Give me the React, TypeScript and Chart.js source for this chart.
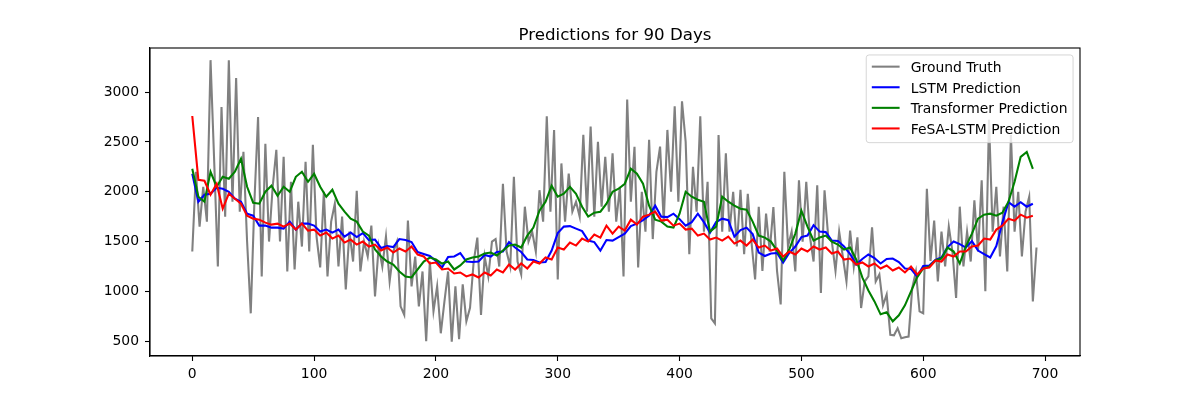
import React, { useEffect, useRef } from 'react';
import { Chart, registerables } from 'chart.js';

Chart.register(...registerables);

// sampling steps (days) for the series below
const truthStep = 3;
const predStep = 5;

const groundTruth = [
  1400, 2200, 1650, 2050, 1700, 3320, 2300, 1250, 2850, 1750,
  3320, 1900, 3140, 1800, 2400, 1500, 780, 1900, 2750, 1150,
  2480, 1500, 2050, 2420, 1500, 2350, 1200, 2100, 1220, 1900,
  1450, 2300, 1400, 2470, 1550, 1240, 2000, 1150, 1700, 1880,
  1250, 1750, 1020, 1600, 1300, 2010, 1200, 1500, 1350, 1660,
  950, 1450, 1250, 1550, 1100, 1400, 1500, 850, 765, 1710,
  1050, 1350, 850, 1200, 500, 1300, 800, 1050, 580, 900,
  1200, 495, 1050, 520, 1070, 700, 835, 1300, 1540, 765,
  1350, 1150, 1500, 1525, 1250, 2080, 1400, 1250, 2150, 1300,
  1170, 1850, 1500, 1600, 1400, 2015, 1700, 2757, 1800, 2620,
  1120, 2284, 1700, 2183, 1800, 1900, 1750, 2570, 1800, 2655,
  1750, 2500, 1850, 2350, 1800, 2385, 1700, 2050, 1150, 2925,
  1900, 2450, 1240, 2000, 1600, 2520, 1525, 2200, 2453, 1700,
  2620, 2000, 2858, 1900, 2908, 2500, 1374, 2250, 1800, 2757,
  1600, 2100, 730, 680, 2570, 1600, 2385, 1600, 2000, 1450,
  2020, 1374, 1980, 1500, 1120, 1850, 1205, 1780, 1400, 1845,
  1205, 870, 2200, 1450, 1600, 1200, 2115, 1500, 2100, 1550,
  1300, 2065, 985, 2015, 1550, 1500, 1205, 1600, 1350, 1100,
  1610, 1250, 1543, 833, 1100, 1150, 1643, 1100, 1170, 860,
  968, 564, 560, 630, 530, 540, 547, 1036, 1200, 800,
  780, 2030, 1305, 1710, 1100, 1600, 1250, 1650, 1400, 935,
  1850, 1250, 1600, 1300, 1913, 1400, 2115, 1003, 2723, 1600,
  2050, 1350, 1850, 1200, 2570, 1600, 2000, 1350, 1800, 1950,
  900, 1440,
];

const lstmPred = [
  2180, 1900, 1970, 1980, 2040, 2030, 2000, 1930, 1900, 1780,
  1760, 1660, 1660, 1640, 1640, 1630, 1700, 1620, 1680, 1680,
  1660, 1600, 1620, 1590, 1620, 1550, 1590, 1545, 1585, 1515,
  1520, 1435, 1455, 1445, 1525, 1515, 1495, 1395, 1375, 1355,
  1305, 1240, 1345, 1350, 1385, 1300, 1295, 1300, 1365, 1350,
  1395, 1400, 1495, 1440, 1395, 1320, 1315, 1290, 1295, 1410,
  1585, 1650, 1655, 1630, 1605, 1510, 1495, 1410, 1515, 1510,
  1545, 1580, 1655, 1680, 1715, 1760, 1860, 1750, 1745, 1780,
  1725, 1660, 1695, 1780, 1695, 1590, 1695, 1730, 1715, 1550,
  1615, 1640, 1575, 1390, 1355, 1380, 1385, 1290, 1385, 1450,
  1545, 1560, 1665, 1600, 1595, 1510, 1505, 1450, 1375, 1270,
  1325, 1370, 1335, 1280, 1325, 1330, 1295, 1230, 1225, 1150,
  1255, 1260, 1315, 1340, 1445, 1500, 1475, 1440, 1505, 1410,
  1375, 1340, 1455, 1690, 1895, 1850, 1895, 1850, 1880,
];

const transformerPred = [
  2230, 1950, 1900, 2200, 2050, 2150, 2130, 2200, 2330, 2050,
  1890, 1880, 2000, 2060, 1960, 2050, 2000, 2150, 2200, 2100,
  2180, 2050, 1950, 2020, 1880, 1800, 1730, 1700, 1600, 1560,
  1420, 1350, 1300, 1270, 1200, 1150, 1140, 1220, 1300, 1340,
  1320, 1280, 1300, 1220, 1260, 1320, 1340, 1350, 1380, 1390,
  1360, 1410, 1460, 1470, 1440, 1560, 1640, 1810, 1900, 2060,
  1950, 1980, 2050, 1980, 1850, 1750, 1790, 1800, 1880, 2000,
  2030, 2080, 2230, 2180, 2080, 1860, 1720, 1700, 1650, 1640,
  1780, 2000, 1950, 1920, 1900, 1600, 1650, 1950, 1900, 1860,
  1830, 1820, 1700, 1560, 1540, 1500, 1410, 1310, 1420, 1580,
  1810, 1650, 1510, 1540, 1560, 1500, 1470, 1420, 1440, 1320,
  1140, 1010, 900, 770, 790, 700, 760, 860, 1000, 1140,
  1230, 1250, 1310, 1330, 1440, 1400, 1280, 1450, 1580, 1730,
  1770, 1780, 1760, 1790, 1900, 2100, 2350, 2400, 2230,
];

const fesaPred = [
  2760, 2120, 2110, 1970, 2080, 1830, 1980, 1930, 1880, 1760,
  1730, 1720, 1690, 1670, 1680, 1650, 1680, 1620, 1680, 1610,
  1620, 1560, 1590, 1530, 1560, 1490, 1520, 1470, 1500, 1450,
  1470, 1410, 1440, 1390, 1430, 1400, 1450, 1370, 1350, 1280,
  1290, 1220, 1230, 1180, 1190, 1150, 1170, 1140, 1190, 1160,
  1220, 1190, 1270, 1220, 1280, 1230, 1300, 1280, 1340, 1320,
  1440, 1420, 1490, 1460, 1530, 1500, 1570, 1540, 1660, 1580,
  1650, 1610, 1720, 1670, 1750, 1770, 1800, 1710, 1720, 1660,
  1680, 1620, 1630, 1560, 1580, 1520, 1540, 1510, 1550, 1480,
  1510, 1460, 1520, 1440, 1460, 1410, 1430, 1350, 1400, 1370,
  1430, 1400, 1450, 1420, 1440, 1380, 1400, 1320, 1330, 1270,
  1290, 1250, 1280, 1230, 1260, 1210, 1240, 1190, 1250, 1170,
  1230, 1240, 1310, 1300, 1370, 1350, 1400, 1400, 1450, 1460,
  1530, 1520, 1620, 1660, 1730, 1710, 1770, 1740, 1760,
];

const xTickValues = [0, 100, 200, 300, 400, 500, 600, 700];
const yTickValues = [500, 1000, 1500, 2000, 2500, 3000];

const FONT = '"DejaVu Sans", sans-serif';

const toPoints = (values: number[], step: number) =>
  values.map((y, i) => ({ x: i * step, y }));

const framePlugin = {
  id: 'frame',
  afterDatasetsDraw(chart: any) {
    const { ctx, chartArea: a } = chart;
    ctx.save();
    ctx.strokeStyle = '#000';
    ctx.lineWidth = 1.1;
    ctx.strokeRect(a.left, a.top, a.right - a.left, a.bottom - a.top);
    ctx.restore();
  },
};

const titlePlugin = {
  id: 'mplTitle',
  afterDraw(chart: any) {
    const { ctx, chartArea: a } = chart;
    ctx.save();
    ctx.font = `16.67px ${FONT}`;
    ctx.fillStyle = '#000';
    ctx.textAlign = 'center';
    ctx.textBaseline = 'alphabetic';
    ctx.fillText('Predictions for 90 Days', (a.left + a.right) / 2, a.top - 8.3);
    ctx.restore();
  },
};

const legendPlugin = {
  id: 'mplLegend',
  afterDraw(chart: any) {
    const { ctx, chartArea: a } = chart;
    const fs = 13.9;
    const sets = chart.data.datasets;
    ctx.save();
    ctx.font = `${fs}px ${FONT}`;
    const textW = Math.max(...sets.map((d: any) => ctx.measureText(d.label).width));
    const pad = 0.4 * fs;
    const handle = 2 * fs;
    const gap = 0.8 * fs;
    const w = pad + handle + gap + textW + pad;
    const h = 87.7;
    const right = a.right - 0.5 * fs;
    const top = a.top + 0.5 * fs;
    const left = right - w;
    ctx.beginPath();
    ctx.roundRect(left, top, w, h, 2.8);
    ctx.fillStyle = 'rgba(255,255,255,0.8)';
    ctx.fill();
    ctx.strokeStyle = 'rgba(204,204,204,0.8)';
    ctx.lineWidth = 1;
    ctx.stroke();
    sets.forEach((d: any, i: number) => {
      const cy = top + 11.7 + i * 20.6;
      ctx.beginPath();
      ctx.moveTo(left + pad, cy);
      ctx.lineTo(left + pad + handle, cy);
      ctx.strokeStyle = d.borderColor;
      ctx.lineWidth = 2.08;
      ctx.stroke();
      ctx.fillStyle = '#000';
      ctx.textAlign = 'left';
      ctx.textBaseline = 'alphabetic';
      ctx.fillText(d.label, left + pad + handle + gap, cy + 5.3);
    });
    ctx.restore();
  },
};

const App: React.FC = () => {
  const canvasRef = useRef<HTMLCanvasElement | null>(null);
  const chartRef = useRef<Chart | null>(null);

  useEffect(() => {
    if (!canvasRef.current) return;
    if (chartRef.current) chartRef.current.destroy();

    const line = (label: string, data: { x: number; y: number }[], color: string, order: number) => ({
      label,
      data,
      borderColor: color,
      backgroundColor: color,
      borderWidth: 2.08,
      pointRadius: 0,
      tension: 0,
      fill: false,
      order,
    });

    const tickCfg = {
      color: '#000',
      font: { family: FONT, size: 13.9 },
      callback: (v: any) => String(v),
    };

    chartRef.current = new Chart(canvasRef.current, {
      type: 'line',
      data: {
        datasets: [
          line('Ground Truth', toPoints(groundTruth, truthStep), '#808080', 4),
          line('LSTM Prediction', toPoints(lstmPred, predStep), '#0000ff', 3),
          line('Transformer Prediction', toPoints(transformerPred, predStep), '#008000', 2),
          line('FeSA-LSTM Prediction', toPoints(fesaPred, predStep), '#ff0000', 1),
        ],
      },
      options: {
        responsive: false,
        animation: false,
        devicePixelRatio: 1,
        layout: { padding: { left: 0, right: 120, top: 48, bottom: 0 } },
        plugins: {
          legend: { display: false },
          title: { display: false },
          tooltip: { enabled: false },
        },
        scales: {
          x: {
            type: 'linear',
            min: -34.7,
            max: 728.7,
            afterBuildTicks: (scale: any) => {
              scale.ticks = xTickValues.map((value) => ({ value }));
            },
            afterFit: (scale: any) => {
              scale.height = 44;
            },
            grid: {
              drawOnChartArea: false,
              drawTicks: true,
              tickLength: 5,
              tickWidth: 1.1,
              tickColor: '#000',
            },
            border: { display: true, color: '#000', width: 1.1 },
            ticks: { ...tickCfg, padding: 5, maxRotation: 0, autoSkip: false },
          },
          y: {
            type: 'linear',
            min: 352,
            max: 3442,
            afterBuildTicks: (scale: any) => {
              scale.ticks = yTickValues.map((value) => ({ value }));
            },
            afterFit: (scale: any) => {
              scale.width = 150;
            },
            grid: {
              drawOnChartArea: false,
              drawTicks: true,
              tickLength: 5,
              tickWidth: 1.1,
              tickColor: '#000',
            },
            border: { display: true, color: '#000', width: 1.1 },
            ticks: { ...tickCfg, padding: 6, autoSkip: false },
          },
        },
      },
      plugins: [framePlugin, titlePlugin, legendPlugin],
    });

    return () => {
      if (chartRef.current) {
        chartRef.current.destroy();
        chartRef.current = null;
      }
    };
  }, []);

  return (
    <div style={{ position: 'absolute', left: 0, top: 0, width: 1200, height: 400, background: '#fff' }}>
      <canvas ref={canvasRef} width={1200} height={400} />
    </div>
  );
};

export default App;
